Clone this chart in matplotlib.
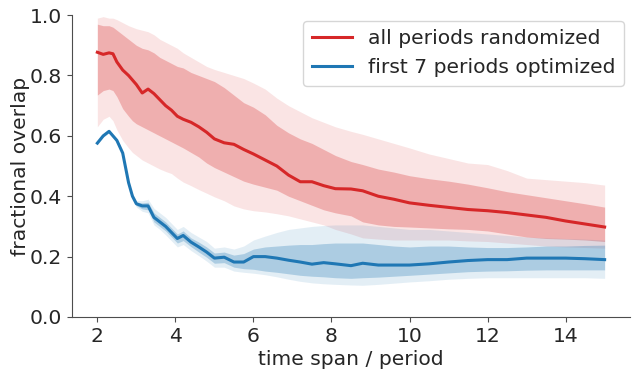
import matplotlib
matplotlib.use("Agg")
import matplotlib.pyplot as plt

x = [2.0, 2.15, 2.3, 2.4, 2.5, 2.65, 2.8, 2.9, 3.0, 3.15, 3.3, 3.45, 3.6, 3.75, 3.9,
     4.05, 4.2, 4.4, 4.6, 4.8, 5.0, 5.25, 5.5, 5.75, 6.0, 6.3, 6.6, 6.9, 7.2, 7.5,
     7.8, 8.1, 8.5, 8.8, 9.2, 9.6, 10.0, 10.5, 11.0, 11.5, 12.0, 12.5, 13.0, 13.5,
     14.0, 14.5, 15.0]

red_mean = [0.877, 0.870, 0.875, 0.872, 0.845, 0.818, 0.800, 0.785, 0.770, 0.742,
            0.755, 0.740, 0.720, 0.700, 0.685, 0.665, 0.655, 0.645, 0.630, 0.612,
            0.590, 0.577, 0.572, 0.555, 0.540, 0.520, 0.500, 0.470, 0.448, 0.448,
            0.435, 0.425, 0.424, 0.418, 0.400, 0.390, 0.378, 0.370, 0.363, 0.356,
            0.352, 0.346, 0.338, 0.330, 0.318, 0.308, 0.298]
red_in_hi = [0.970, 0.965, 0.965, 0.960, 0.950, 0.935, 0.920, 0.910, 0.900, 0.890,
             0.885, 0.875, 0.860, 0.850, 0.840, 0.830, 0.825, 0.810, 0.800, 0.790,
             0.780, 0.760, 0.735, 0.710, 0.695, 0.670, 0.635, 0.610, 0.590, 0.575,
             0.555, 0.535, 0.515, 0.505, 0.490, 0.480, 0.468, 0.458, 0.450, 0.440,
             0.428, 0.415, 0.405, 0.395, 0.385, 0.375, 0.364]
red_in_lo = [0.735, 0.750, 0.755, 0.750, 0.730, 0.690, 0.665, 0.650, 0.640, 0.630,
             0.620, 0.610, 0.600, 0.590, 0.580, 0.570, 0.560, 0.545, 0.530, 0.510,
             0.495, 0.480, 0.465, 0.450, 0.440, 0.430, 0.420, 0.400, 0.385, 0.370,
             0.355, 0.345, 0.335, 0.315, 0.305, 0.300, 0.298, 0.295, 0.292, 0.290,
             0.285, 0.275, 0.265, 0.260, 0.258, 0.255, 0.250]
red_out_hi = [0.990, 0.995, 0.990, 0.990, 0.985, 0.975, 0.965, 0.960, 0.955, 0.950,
              0.945, 0.935, 0.920, 0.910, 0.900, 0.890, 0.875, 0.860, 0.845, 0.830,
              0.820, 0.810, 0.800, 0.790, 0.775, 0.755, 0.725, 0.700, 0.680, 0.660,
              0.645, 0.630, 0.615, 0.605, 0.590, 0.575, 0.560, 0.540, 0.525, 0.510,
              0.505, 0.485, 0.460, 0.455, 0.450, 0.445, 0.437]
red_out_lo = [0.630, 0.655, 0.665, 0.650, 0.620, 0.585, 0.560, 0.545, 0.535, 0.520,
              0.510, 0.500, 0.490, 0.482, 0.475, 0.460, 0.447, 0.435, 0.422, 0.410,
              0.398, 0.385, 0.368, 0.358, 0.352, 0.348, 0.342, 0.335, 0.325, 0.315,
              0.305, 0.290, 0.275, 0.262, 0.258, 0.255, 0.255, 0.255, 0.255, 0.252,
              0.250, 0.245, 0.240, 0.235, 0.232, 0.230, 0.228]

blue_mean = [0.576, 0.600, 0.615, 0.600, 0.585, 0.543, 0.445, 0.400, 0.375, 0.368,
             0.368, 0.330, 0.315, 0.300, 0.280, 0.260, 0.270, 0.248, 0.232, 0.215,
             0.195, 0.198, 0.182, 0.182, 0.200, 0.200, 0.195, 0.188, 0.182, 0.175,
             0.180, 0.176, 0.170, 0.178, 0.172, 0.172, 0.172, 0.176, 0.182, 0.187,
             0.190, 0.190, 0.195, 0.195, 0.195, 0.193, 0.190]
blue_in_hi = [0.579, 0.603, 0.618, 0.603, 0.588, 0.546, 0.449, 0.405, 0.381, 0.378,
              0.380, 0.345, 0.330, 0.315, 0.295, 0.275, 0.285, 0.262, 0.248, 0.232,
              0.212, 0.215, 0.205, 0.210, 0.225, 0.232, 0.235, 0.238, 0.240, 0.240,
              0.243, 0.245, 0.245, 0.245, 0.240, 0.235, 0.232, 0.235, 0.235, 0.232,
              0.230, 0.230, 0.232, 0.235, 0.235, 0.237, 0.238]
blue_in_lo = [0.573, 0.597, 0.612, 0.597, 0.582, 0.540, 0.441, 0.395, 0.369, 0.358,
              0.355, 0.315, 0.300, 0.285, 0.265, 0.245, 0.253, 0.233, 0.215, 0.198,
              0.178, 0.180, 0.165, 0.160, 0.158, 0.152, 0.148, 0.143, 0.138, 0.135,
              0.133, 0.130, 0.128, 0.130, 0.132, 0.135, 0.138, 0.142, 0.146, 0.150,
              0.152, 0.153, 0.155, 0.156, 0.156, 0.156, 0.156]
blue_out_hi = [0.581, 0.605, 0.620, 0.605, 0.590, 0.548, 0.452, 0.409, 0.386, 0.385,
               0.390, 0.360, 0.345, 0.330, 0.310, 0.290, 0.300, 0.280, 0.265, 0.250,
               0.228, 0.232, 0.225, 0.235, 0.255, 0.268, 0.280, 0.290, 0.295, 0.300,
               0.303, 0.305, 0.305, 0.305, 0.300, 0.295, 0.290, 0.290, 0.285, 0.280,
               0.275, 0.270, 0.265, 0.262, 0.260, 0.258, 0.255]
blue_out_lo = [0.571, 0.595, 0.610, 0.595, 0.580, 0.538, 0.438, 0.391, 0.364, 0.350,
               0.345, 0.305, 0.290, 0.272, 0.252, 0.232, 0.240, 0.220, 0.203, 0.185,
               0.165, 0.165, 0.152, 0.148, 0.145, 0.140, 0.133, 0.125, 0.118, 0.113,
               0.110, 0.108, 0.106, 0.105, 0.108, 0.112, 0.116, 0.120, 0.125, 0.128,
               0.130, 0.130, 0.130, 0.130, 0.130, 0.130, 0.128]

labels = ["all periods randomized", "first 7 periods optimized"]
red = "#d62728"
blue = "#1f77b4"
txt = "0.15"
fs = 14.6

plt.rcParams['font.family'] = ['DejaVu Sans']
plt.rcParams['text.color'] = txt
plt.rcParams['axes.labelcolor'] = txt
plt.rcParams['xtick.color'] = txt
plt.rcParams['ytick.color'] = txt
fig = plt.figure(figsize=(6.37, 3.69), dpi=100)
ax = fig.add_axes([0.113, 0.141, 0.876, 0.818])

ax.fill_between(x, red_out_lo, red_out_hi, color=red, alpha=0.12, linewidth=0)
ax.fill_between(x, red_in_lo, red_in_hi, color=red, alpha=0.28, linewidth=0)
ax.fill_between(x, blue_out_lo, blue_out_hi, color=blue, alpha=0.12, linewidth=0)
ax.fill_between(x, blue_in_lo, blue_in_hi, color=blue, alpha=0.28, linewidth=0)
ax.plot(x, red_mean, color=red, lw=2.2, label=labels[0])
ax.plot(x, blue_mean, color=blue, lw=2.2, label=labels[1])

ax.set_ylim(0, 1.0)
ax.set_yticks([0.0, 0.2, 0.4, 0.6, 0.8, 1.0])
ax.set_xticks([2, 4, 6, 8, 10, 12, 14])
ax.tick_params(labelsize=fs, color='0.3')
ax.set_xlabel("time span / period", fontsize=fs, labelpad=3)
ax.set_ylabel("fractional overlap", fontsize=fs, labelpad=0)
for s in ['top', 'right']:
    ax.spines[s].set_visible(False)
for s in ['left', 'bottom']:
    ax.spines[s].set_color('0.3')
ax.legend(loc='upper right', fontsize=fs, frameon=True, borderaxespad=0.3)

fig.savefig("out.png", dpi=100)
